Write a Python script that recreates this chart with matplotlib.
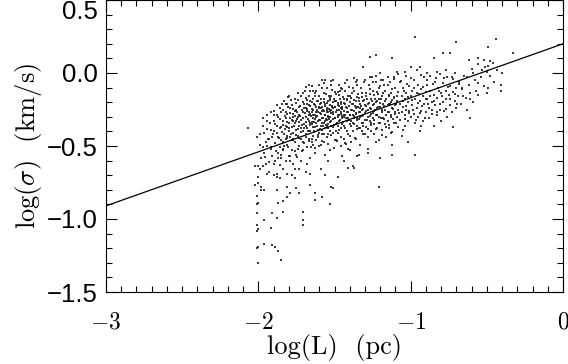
import matplotlib
matplotlib.use("Agg")
import matplotlib.pyplot as plt
import numpy as np
from matplotlib.ticker import MultipleLocator

plt.rcParams['font.family'] = 'cmr10'
plt.rcParams['mathtext.fontset'] = 'cm'
plt.rcParams['axes.formatter.use_mathtext'] = True

# fitted relation log(sigma) = a + b log(L)
fit_a = 0.20
fit_b = 0.37

x_ticks = [-3, -2, -1, 0]
y_ticks = [-1.5, -1.0, -0.5, 0.0, 0.5]

# main cloud, read strip by strip
core_pts = [
    (-1.99,-0.42),(-1.97,-0.36),(-1.96,-0.55),(-1.95,-0.47),(-1.94,-0.29),(-1.93,-0.61),(-1.92,-0.39),(-1.92,-0.52),
    (-1.91,-0.44),(-1.90,-0.33),(-1.98,-0.58),(-1.96,-0.41),(-1.94,-0.50),(-1.93,-0.45),(-1.91,-0.57),(-1.95,-0.62),
    (-1.99,-0.49),(-1.90,-0.26),(-1.97,-0.31),(-1.93,-0.68),
    (-1.89,-0.35),(-1.89,-0.48),(-1.88,-0.22),(-1.88,-0.41),(-1.87,-0.55),(-1.87,-0.30),(-1.86,-0.63),(-1.86,-0.38),
    (-1.85,-0.46),(-1.85,-0.27),(-1.84,-0.52),(-1.84,-0.33),(-1.83,-0.42),(-1.83,-0.19),(-1.82,-0.60),(-1.82,-0.36),
    (-1.81,-0.49),(-1.81,-0.28),(-1.80,-0.40),(-1.80,-0.57),(-1.89,-0.60),(-1.87,-0.44),(-1.85,-0.37),(-1.84,-0.25),
    (-1.83,-0.50),(-1.82,-0.31),(-1.81,-0.43),(-1.80,-0.34),(-1.86,-0.51),(-1.88,-0.29),(-1.84,-0.66),(-1.82,-0.45),
    (-1.86,-0.24),(-1.81,-0.21),(-1.85,-0.56),
    (-1.79,-0.31),(-1.79,-0.44),(-1.78,-0.22),(-1.78,-0.37),(-1.78,-0.53),(-1.77,-0.28),(-1.77,-0.41),(-1.77,-0.62),
    (-1.76,-0.18),(-1.76,-0.34),(-1.76,-0.47),(-1.75,-0.25),(-1.75,-0.39),(-1.75,-0.56),(-1.74,-0.30),(-1.74,-0.43),
    (-1.74,-0.14),(-1.73,-0.36),(-1.73,-0.50),(-1.73,-0.23),(-1.72,-0.32),(-1.72,-0.45),(-1.72,-0.60),(-1.71,-0.27),
    (-1.71,-0.40),(-1.71,-0.20),(-1.70,-0.35),(-1.70,-0.48),(-1.79,-0.57),(-1.77,-0.33),(-1.76,-0.26),(-1.74,-0.52),
    (-1.73,-0.29),(-1.72,-0.38),(-1.70,-0.24),(-1.78,-0.46),(-1.75,-0.33),(-1.71,-0.53),(-1.79,-0.24),(-1.76,-0.66),
    (-1.69,-0.30),(-1.69,-0.42),(-1.69,-0.17),(-1.68,-0.26),(-1.68,-0.38),(-1.68,-0.51),(-1.67,-0.22),(-1.67,-0.33),
    (-1.67,-0.45),(-1.66,-0.12),(-1.66,-0.28),(-1.66,-0.40),(-1.66,-0.58),(-1.65,-0.20),(-1.65,-0.35),(-1.65,-0.47),
    (-1.64,-0.25),(-1.64,-0.31),(-1.64,-0.43),(-1.63,-0.16),(-1.63,-0.29),(-1.63,-0.37),(-1.63,-0.55),(-1.62,-0.23),
    (-1.62,-0.34),(-1.62,-0.46),(-1.61,-0.27),(-1.61,-0.39),(-1.61,-0.19),(-1.60,-0.32),(-1.60,-0.41),(-1.60,-0.24),
    (-1.69,-0.36),(-1.68,-0.21),(-1.67,-0.29),(-1.66,-0.34),(-1.65,-0.27),(-1.64,-0.37),(-1.63,-0.22),(-1.62,-0.30),
    (-1.61,-0.33),(-1.60,-0.50),(-1.68,-0.62),(-1.65,-0.09),(-1.62,-0.12),(-1.67,-0.40),(-1.64,-0.49),(-1.61,-0.44),
    (-1.69,-0.24),(-1.66,-0.19),
    (-1.59,-0.28),(-1.59,-0.36),(-1.59,-0.18),(-1.58,-0.23),(-1.58,-0.31),(-1.58,-0.42),(-1.57,-0.14),(-1.57,-0.26),
    (-1.57,-0.34),(-1.57,-0.47),(-1.56,-0.21),(-1.56,-0.29),(-1.56,-0.38),(-1.55,-0.10),(-1.55,-0.24),(-1.55,-0.32),
    (-1.55,-0.44),(-1.54,-0.19),(-1.54,-0.27),(-1.54,-0.35),(-1.53,-0.22),(-1.53,-0.30),(-1.53,-0.40),(-1.53,-0.53),
    (-1.52,-0.16),(-1.52,-0.25),(-1.52,-0.33),(-1.51,-0.20),(-1.51,-0.28),(-1.51,-0.37),(-1.50,-0.13),(-1.50,-0.23),
    (-1.50,-0.31),(-1.50,-0.46),(-1.59,-0.24),(-1.58,-0.39),(-1.57,-0.20),(-1.56,-0.33),(-1.55,-0.27),(-1.54,-0.30),
    (-1.53,-0.17),(-1.52,-0.36),(-1.51,-0.24),(-1.59,-0.49),(-1.56,-0.56),(-1.54,-0.42),(-1.52,-0.08),(-1.57,-0.07),
    (-1.55,-0.36),(-1.51,-0.41),(-1.58,-0.26),(-1.53,-0.26),
    (-1.49,-0.27),(-1.49,-0.19),(-1.49,-0.35),(-1.48,-0.22),(-1.48,-0.30),(-1.48,-0.41),(-1.47,-0.15),(-1.47,-0.25),
    (-1.47,-0.33),(-1.46,-0.20),(-1.46,-0.28),(-1.46,-0.38),(-1.46,-0.50),(-1.45,-0.11),(-1.45,-0.23),(-1.45,-0.31),
    (-1.44,-0.18),(-1.44,-0.26),(-1.44,-0.36),(-1.44,-0.45),(-1.43,-0.21),(-1.43,-0.29),(-1.43,-0.07),(-1.42,-0.24),
    (-1.42,-0.33),(-1.42,-0.40),(-1.41,-0.16),(-1.41,-0.27),(-1.41,-0.31),(-1.40,-0.20),(-1.40,-0.29),(-1.40,-0.43),
    (-1.49,-0.46),(-1.47,-0.39),(-1.45,-0.35),(-1.43,-0.48),(-1.48,-0.13),(-1.46,-0.24),(-1.42,-0.18),(-1.40,-0.35),
    (-1.44,-0.30),(-1.47,-0.29),(-1.41,-0.52),(-1.45,-0.57),
    (-1.39,-0.25),(-1.39,-0.17),(-1.39,-0.33),(-1.38,-0.21),(-1.38,-0.29),(-1.38,-0.40),(-1.37,-0.12),(-1.37,-0.26),
    (-1.37,-0.35),(-1.36,-0.19),(-1.36,-0.28),(-1.36,-0.45),(-1.35,-0.23),(-1.35,-0.31),(-1.35,-0.08),(-1.34,-0.17),
    (-1.34,-0.27),(-1.34,-0.38),(-1.33,-0.21),(-1.33,-0.30),(-1.33,-0.49),(-1.32,-0.14),(-1.32,-0.25),(-1.32,-0.34),
    (-1.31,-0.19),(-1.31,-0.29),(-1.31,-0.42),(-1.30,-0.22),(-1.30,-0.32),(-1.30,-0.05),(-1.39,-0.47),(-1.37,-0.31),
    (-1.35,-0.36),(-1.33,-0.24),(-1.31,-0.36),(-1.38,-0.10),(-1.34,-0.56),(-1.36,-0.24),(-1.32,-0.40),
    (-1.29,-0.26),(-1.29,-0.16),(-1.29,-0.37),(-1.28,-0.21),(-1.28,-0.30),(-1.28,-0.44),(-1.27,-0.11),(-1.27,-0.24),
    (-1.27,-0.33),(-1.26,-0.18),(-1.26,-0.28),(-1.26,-0.40),(-1.25,-0.06),(-1.25,-0.22),(-1.25,-0.31),(-1.24,-0.15),
    (-1.24,-0.26),(-1.24,-0.35),(-1.23,-0.20),(-1.23,-0.29),(-1.23,-0.47),(-1.22,-0.13),(-1.22,-0.24),(-1.22,-0.38),
    (-1.21,-0.18),(-1.21,-0.30),(-1.20,-0.09),(-1.20,-0.23),(-1.20,-0.34),(-1.28,-0.52),(-1.26,-0.34),(-1.24,-0.42),
    (-1.22,-0.29),(-1.21,-0.46),(-1.27,-0.03),(-1.23,-0.02),
    (-1.19,-0.27),(-1.19,-0.16),(-1.19,-0.39),(-1.18,-0.21),(-1.18,-0.31),(-1.17,-0.12),(-1.17,-0.25),(-1.17,-0.35),
    (-1.16,-0.18),(-1.16,-0.29),(-1.16,-0.44),(-1.15,-0.08),(-1.15,-0.22),(-1.15,-0.33),(-1.14,-0.15),(-1.14,-0.27),
    (-1.14,-0.38),(-1.13,-0.20),(-1.13,-0.30),(-1.12,-0.11),(-1.12,-0.24),(-1.12,-0.49),(-1.11,-0.17),(-1.11,-0.34),
    (-1.10,-0.22),(-1.10,-0.28),(-1.18,-0.05),(-1.16,-0.37),(-1.13,-0.41),(-1.11,-0.04),(-1.14,-0.21),
    (-1.09,-0.19),(-1.09,-0.30),(-1.08,-0.13),(-1.08,-0.25),(-1.08,-0.37),(-1.07,-0.06),(-1.07,-0.21),(-1.07,-0.32),
    (-1.06,-0.16),(-1.06,-0.27),(-1.06,-0.43),(-1.05,-0.10),(-1.05,-0.23),(-1.04,-0.18),(-1.04,-0.29),(-1.04,-0.36),
    (-1.03,-0.02),(-1.03,-0.14),(-1.03,-0.25),(-1.02,-0.20),(-1.02,-0.33),(-1.01,-0.09),(-1.01,-0.26),(-1.00,-0.16),
    (-1.00,-0.30),(-1.05,-0.39),(-1.02,-0.47),(-1.08,-0.01),
    (-0.99,-0.22),(-0.99,-0.12),(-0.98,-0.28),(-0.98,-0.05),(-0.97,-0.18),(-0.97,-0.34),(-0.96,-0.14),(-0.96,-0.24),
    (-0.95,-0.08),(-0.95,-0.30),(-0.94,-0.19),(-0.94,-0.40),(-0.93,-0.11),(-0.93,-0.26),(-0.92,-0.16),(-0.92,-0.33),
    (-0.91,-0.03),(-0.91,-0.21),(-0.90,-0.13),(-0.90,-0.27),(-0.96,0.02),(-0.93,-0.36),
    (-0.89,-0.18),(-0.89,-0.08),(-0.88,-0.24),(-0.88,-0.31),(-0.87,-0.12),(-0.87,-0.02),(-0.86,-0.20),(-0.86,-0.28),
    (-0.85,-0.15),(-0.85,-0.36),(-0.84,-0.06),(-0.84,-0.22),(-0.83,-0.17),(-0.83,-0.29),(-0.82,-0.10),(-0.81,-0.25),
    (-0.81,-0.01),(-0.80,-0.14),(-0.80,-0.33),
    (-0.79,-0.20),(-0.79,-0.07),(-0.78,-0.26),(-0.77,-0.12),(-0.77,-0.18),(-0.76,-0.03),(-0.76,-0.30),(-0.75,-0.15),
    (-0.74,-0.22),(-0.74,-0.09),(-0.73,-0.27),(-0.72,-0.13),(-0.72,-0.04),(-0.71,-0.19),(-0.70,-0.10),(-0.70,-0.24),
    (-0.69,-0.16),(-0.68,-0.06),(-0.67,-0.21),(-0.66,-0.11),(-0.65,-0.02),(-0.64,-0.17),(-0.63,-0.25),(-0.62,-0.08),
    (-0.61,-0.14),(-0.60,0.03),(-0.59,-0.20),(-0.58,-0.05),(-0.57,-0.12),(-0.56,0.06),
    (-0.54,-0.03),(-0.52,-0.09),(-0.51,0.04),(-0.50,-0.14),(-0.48,-0.02),(-0.46,0.07),(-0.45,-0.06),(-0.43,0.02),
]

# second pass over the denser part of the cloud
core_pts2 = [
    (-1.945,-0.385),(-1.935,-0.455),(-1.925,-0.345),(-1.915,-0.505),(-1.905,-0.415),(-1.895,-0.285),(-1.885,-0.535),
    (-1.875,-0.365),(-1.865,-0.445),(-1.855,-0.315),(-1.955,-0.575),(-1.895,-0.625),
    (-1.845,-0.405),(-1.842,-0.215),(-1.838,-0.355),(-1.835,-0.475),(-1.828,-0.295),(-1.825,-0.385),(-1.818,-0.265),
    (-1.815,-0.445),(-1.812,-0.335),(-1.805,-0.235),(-1.802,-0.505),(-1.798,-0.375),(-1.795,-0.275),(-1.788,-0.415),
    (-1.785,-0.185),(-1.778,-0.325),(-1.775,-0.455),(-1.772,-0.245),(-1.765,-0.365),(-1.762,-0.295),(-1.758,-0.535),
    (-1.755,-0.205),(-1.752,-0.425),(-1.848,-0.585),(-1.808,-0.165),
    (-1.748,-0.315),(-1.745,-0.265),(-1.742,-0.385),(-1.738,-0.185),(-1.735,-0.445),(-1.732,-0.335),(-1.728,-0.225),
    (-1.725,-0.295),(-1.722,-0.405),(-1.718,-0.155),(-1.715,-0.355),(-1.712,-0.255),(-1.708,-0.475),(-1.705,-0.305),
    (-1.702,-0.215),(-1.698,-0.375),(-1.695,-0.125),(-1.692,-0.275),(-1.688,-0.335),(-1.685,-0.435),(-1.682,-0.185),
    (-1.678,-0.245),(-1.675,-0.315),(-1.672,-0.395),(-1.668,-0.155),(-1.665,-0.265),(-1.662,-0.355),(-1.658,-0.225),
    (-1.655,-0.505),(-1.652,-0.295),(-1.745,-0.575),(-1.715,-0.535),(-1.685,-0.095),(-1.668,-0.465),(-1.705,-0.135),
    (-1.648,-0.245),(-1.645,-0.335),(-1.642,-0.175),(-1.638,-0.285),(-1.635,-0.395),(-1.632,-0.215),(-1.628,-0.315),
    (-1.625,-0.135),(-1.622,-0.265),(-1.618,-0.365),(-1.615,-0.195),(-1.612,-0.295),(-1.608,-0.425),(-1.605,-0.235),
    (-1.602,-0.155),(-1.598,-0.325),(-1.595,-0.275),(-1.592,-0.385),(-1.588,-0.205),(-1.585,-0.105),(-1.582,-0.345),
    (-1.578,-0.255),(-1.575,-0.305),(-1.572,-0.175),(-1.568,-0.415),(-1.565,-0.225),(-1.562,-0.285),(-1.558,-0.355),
    (-1.555,-0.145),(-1.552,-0.255),(-1.645,-0.455),(-1.625,-0.515),(-1.605,-0.085),(-1.585,-0.465),(-1.565,-0.045),
    (-1.635,-0.335),(-1.615,-0.255),(-1.595,-0.215),(-1.575,-0.365),(-1.555,-0.315),
    (-1.548,-0.205),(-1.545,-0.295),(-1.542,-0.375),(-1.538,-0.155),(-1.535,-0.245),(-1.532,-0.335),(-1.528,-0.185),
    (-1.525,-0.275),(-1.522,-0.425),(-1.518,-0.225),(-1.515,-0.115),(-1.512,-0.315),(-1.508,-0.265),(-1.505,-0.355),
    (-1.502,-0.175),(-1.498,-0.235),(-1.495,-0.305),(-1.492,-0.395),(-1.488,-0.145),(-1.485,-0.255),(-1.482,-0.345),
    (-1.478,-0.205),(-1.475,-0.285),(-1.472,-0.085),(-1.468,-0.225),(-1.465,-0.325),(-1.462,-0.175),(-1.458,-0.265),
    (-1.455,-0.435),(-1.452,-0.295),(-1.545,-0.485),(-1.525,-0.055),(-1.505,-0.515),(-1.485,-0.465),(-1.465,-0.125),
    (-1.535,-0.315),(-1.515,-0.235),(-1.495,-0.195),(-1.475,-0.365),(-1.455,-0.215),
    (-1.448,-0.245),(-1.445,-0.165),(-1.442,-0.335),(-1.438,-0.205),(-1.435,-0.285),(-1.432,-0.125),(-1.428,-0.375),
    (-1.425,-0.235),(-1.422,-0.305),(-1.418,-0.185),(-1.415,-0.265),(-1.412,-0.415),(-1.408,-0.095),(-1.405,-0.225),
    (-1.402,-0.325),(-1.398,-0.155),(-1.395,-0.285),(-1.392,-0.365),(-1.388,-0.215),(-1.385,-0.255),(-1.382,-0.135),
    (-1.378,-0.345),(-1.375,-0.185),(-1.372,-0.295),(-1.368,-0.445),(-1.365,-0.225),(-1.362,-0.065),(-1.358,-0.275),
    (-1.355,-0.165),(-1.352,-0.385),(-1.425,-0.485),(-1.395,-0.525),(-1.375,-0.035),(-1.415,-0.045),(-1.355,-0.325),
    (-1.348,-0.235),(-1.345,-0.145),(-1.342,-0.315),(-1.338,-0.195),(-1.335,-0.265),(-1.332,-0.375),(-1.328,-0.105),
    (-1.325,-0.225),(-1.322,-0.295),(-1.318,-0.165),(-1.315,-0.345),(-1.312,-0.245),(-1.308,-0.065),(-1.305,-0.185),
    (-1.302,-0.275),(-1.298,-0.415),(-1.295,-0.135),(-1.292,-0.225),(-1.288,-0.325),(-1.285,-0.175),(-1.282,-0.255),
    (-1.278,-0.385),(-1.275,-0.085),(-1.272,-0.205),(-1.268,-0.295),(-1.265,-0.145),(-1.262,-0.245),(-1.258,-0.355),
    (-1.255,-0.025),(-1.252,-0.195),
    (-1.248,-0.275),(-1.245,-0.125),(-1.242,-0.215),(-1.238,-0.325),(-1.235,-0.175),(-1.232,-0.255),(-1.228,-0.065),
    (-1.225,-0.385),(-1.222,-0.195),(-1.218,-0.285),(-1.215,-0.145),(-1.212,-0.235),(-1.208,-0.345),(-1.205,-0.105),
    (-1.202,-0.205),(-1.198,-0.305),(-1.195,-0.045),(-1.192,-0.175),(-1.188,-0.255),(-1.185,-0.425),(-1.182,-0.135),
    (-1.178,-0.225),(-1.175,-0.315),(-1.172,-0.085),(-1.168,-0.195),
    (-1.148,-0.265),(-1.145,-0.155),(-1.142,-0.355),(-1.138,-0.065),(-1.135,-0.215),(-1.132,-0.285),(-1.128,-0.135),
    (-1.125,-0.405),(-1.122,-0.185),(-1.118,-0.315),(-1.115,-0.245),(-1.112,-0.025),(-1.108,-0.165),(-1.105,-0.265),
    (-1.102,-0.105),(-1.098,-0.345),(-1.095,-0.215),(-1.088,-0.155),(-1.075,-0.275),(-1.065,-0.055),
    (-1.048,-0.195),(-1.042,-0.125),(-1.035,-0.315),(-1.028,-0.225),(-1.022,-0.075),(-1.015,-0.165),(-1.008,-0.275),
    (-0.995,-0.035),(-0.988,-0.185),(-0.982,-0.255),(-0.975,-0.105),(-0.968,-0.325),(-0.955,-0.205),(-0.948,-0.145),
    (-0.942,-0.275),(-0.935,-0.015),(-0.925,-0.225),(-0.918,-0.095),(-0.908,-0.305),(-0.902,-0.175),
    (-0.895,-0.045),(-0.885,-0.215),(-0.872,-0.155),(-0.862,-0.255),(-0.852,-0.075),(-0.845,-0.195),(-0.832,-0.035),
    (-0.825,-0.265),(-0.815,-0.125),(-0.805,-0.215),(-0.792,-0.155),(-0.782,-0.035),(-0.768,-0.245),(-0.755,-0.095),
    (-0.742,-0.175),(-0.728,-0.025),(-0.712,-0.145),(-0.695,-0.215),(-0.682,-0.075),(-0.655,-0.155),
]

# upper envelope and scattered points on the right
upper_pts = [
    (-0.97,0.25),(-0.70,0.21),(-0.44,0.23),(-0.49,0.18),(-0.33,0.14),(-1.23,0.12),(-1.27,0.11),(-1.12,0.10),
    (-0.79,0.14),(-0.74,0.14),(-0.85,0.10),(-0.62,0.09),(-0.56,0.10),(-0.52,0.09),(-0.48,0.08),(-0.40,0.00),
    (-0.41,-0.08),(-0.41,-0.12),(-0.49,-0.10),(-0.56,-0.15),(-0.61,-0.18),(-0.61,-0.31),(-0.72,-0.37),
    (-1.35,-0.05),(-1.51,-0.05),(-1.58,-0.05),(-1.64,-0.12),(-1.67,-0.08),(-1.46,-0.10),(-1.31,0.04),(-1.20,0.00),
    (-1.15,-0.03),(-1.09,0.01),(-1.04,0.01),(-1.00,0.04),(-0.94,0.04),(-0.89,0.00),(-0.83,0.01),(-0.77,0.02),
    (-0.71,0.00),(-0.66,-0.10),(-0.63,-0.03),(-0.59,0.00),(-0.53,0.02),(-0.49,0.05),(-0.56,-0.07),(-0.50,0.01),
    (-1.80,-0.16),(-1.82,-0.21),(-1.92,-0.27),(-1.94,-0.33),(-2.07,-0.38),(-2.01,-0.44),(-1.97,-0.51),
    (-1.90,-0.40),(-1.81,-0.37),(-1.77,-0.30),(-1.77,-0.46),(-1.84,-0.53),(-1.87,-0.58),(-1.79,-0.60),
]

# low tail below the cloud, mostly near log(L) = -2
tail_pts = [
    (-2.00,-0.64),(-1.94,-0.69),(-1.88,-0.69),(-1.98,-0.78),(-1.81,-0.78),
    (-2.02,-0.77),(-2.01,-0.84),(-1.98,-0.80),(-1.96,-0.80),(-2.01,-0.90),(-2.01,-0.96),(-2.01,-1.04),(-2.01,-1.08),
    (-1.96,-1.01),(-1.91,-0.96),(-1.88,-0.99),(-1.92,-1.06),(-1.84,-0.95),(-1.71,-0.95),(-1.71,-1.04),(-1.71,-1.01),
    (-1.88,-0.80),(-1.87,-0.89),(-1.84,-0.88),(-1.81,-0.85),(-1.79,-0.82),(-1.73,-0.82),(-1.66,-0.77),(-1.63,-0.87),
    (-1.58,-0.85),(-1.53,-0.90),(-1.52,-0.78),(-1.97,-0.64),(-1.99,-0.66),(-2.02,-0.64),(-2.00,-0.71),(-1.90,-0.70),
    (-1.88,-0.71),(-1.86,-0.72),(-1.81,-0.69),(-1.78,-0.70),(-1.76,-0.72),(-1.73,-0.66),(-1.69,-0.68),(-1.66,-0.69),
    (-1.59,-0.66),(-1.56,-0.70),(-1.48,-0.71),(-1.41,-0.65),(-1.38,-0.64),(-1.54,-0.60),(-1.44,-0.60),(-1.35,-0.57),
    (-1.21,-0.78),(-0.97,-0.56),(-1.20,-0.58),(-1.28,-0.55),(-1.12,-0.56),(-1.37,-0.65),(-1.51,-0.79),(-1.63,-0.82),
    (-1.75,-0.79),(-2.01,-1.20),(-1.96,-1.17),(-1.91,-1.18),(-1.87,-1.22),(-1.85,-1.28),(-2.00,-1.30),
    (-2.00,-0.75),(-2.00,-0.89),(-2.00,-1.07),(-2.00,-1.19),(-1.89,-1.19),
]

pts = np.array(core_pts + core_pts2 + upper_pts + tail_pts)

fig = plt.figure(figsize=(5.68, 3.64), dpi=100)
ax = fig.add_axes([106/568, 72/364, 457/568, 292/364])

ax.scatter(pts[:, 0], pts[:, 1], s=1.1, marker='s', color='0.1', linewidths=0, alpha=0.85)

xl = np.array([-3.0, 0.0])
ax.plot(xl, fit_a + fit_b * xl, color='k', lw=0.9)

ax.set_xlim(-3, 0)
ax.set_ylim(-1.5, 0.5)
ax.set_xticks(x_ticks, [r'$%d$' % v for v in x_ticks], fontsize=17)
ax.set_yticks(y_ticks, [('%.1f' % v).replace('-', '\u2212') for v in y_ticks],
              fontsize=18.5, fontfamily='Liberation Sans')
ax.xaxis.set_minor_locator(MultipleLocator(0.1))
ax.yaxis.set_minor_locator(MultipleLocator(0.1))
ax.get_yticklabels()[-1].set_verticalalignment('top')
ax.tick_params(which='both', direction='in', top=True, right=True, width=0.8)
ax.tick_params(which='major', length=8)
ax.tick_params(which='minor', length=4)
ax.tick_params(axis='x', pad=14)
ax.tick_params(axis='y', pad=6)
for s in ax.spines.values():
    s.set_linewidth(0.8)

ax.set_xlabel(r'log(L)  (pc)', fontsize=19, labelpad=0)
ax.set_ylabel(r'log($\sigma$)  (km/s)', fontsize=19, labelpad=2)

fig.savefig('out.png', dpi=100)
